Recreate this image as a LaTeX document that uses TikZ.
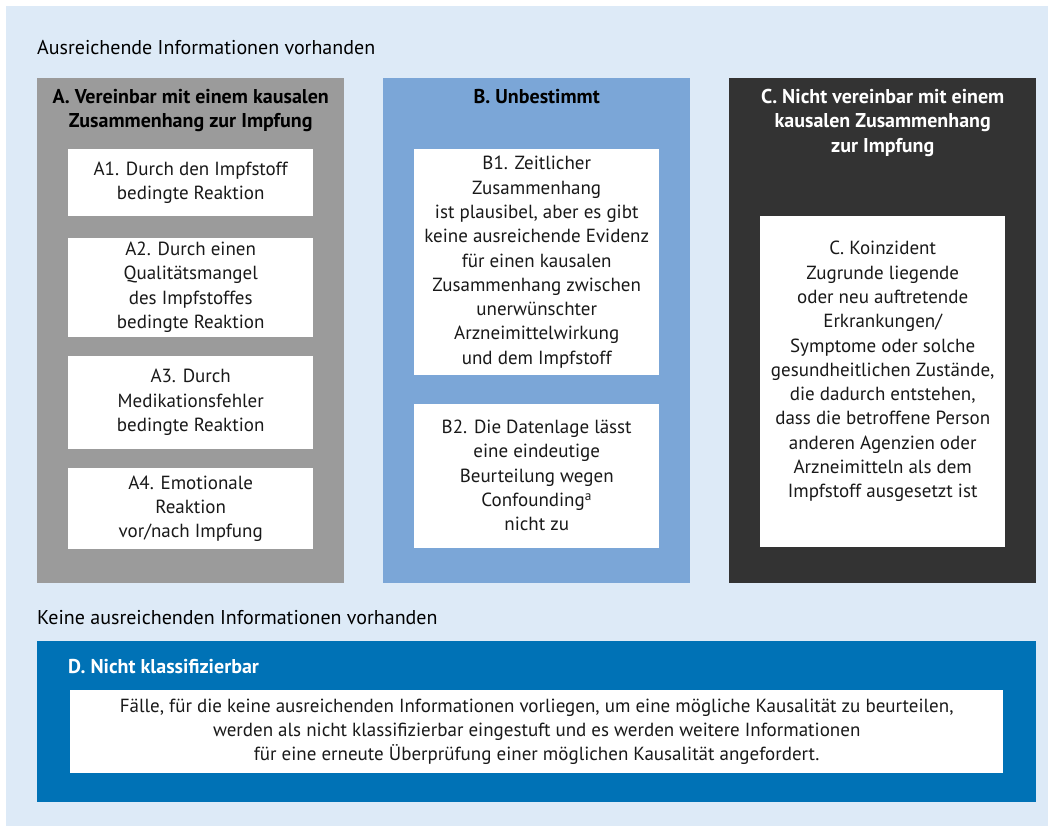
\documentclass[tikz,border=0pt]{standalone}
\usepackage{fontspec}
\setmainfont{PT Sans}
\usepackage{xcolor}
\definecolor{bg-blue}{HTML}{DDEAF7}
\definecolor{box-grey}{HTML}{9B9B9B}
\definecolor{box-blue}{HTML}{7BA6D7}
\definecolor{box-dark}{HTML}{333333}
\definecolor{box-navy}{HTML}{0072B6}
\usepackage{tikz}
\usetikzlibrary{positioning}
\tikzset{panel/.style = {anchor=north west, inner sep=0pt, minimum width=307pt, minimum height=505pt}}
\tikzset{card/.style = {fill=white, align=center, inner sep=0pt, minimum width=245pt, text=black!90, font=\fontsize{19}{24.3}\selectfont}}
\tikzset{head/.style = {align=center, inner sep=0pt, font=\bfseries\fontsize{20}{24.3}\selectfont}}
\tikzset{caption/.style = {anchor=west, inner sep=0pt, font=\fontsize{20}{23}\selectfont}}

\begin{document}
\begin{tikzpicture}[x=1pt, y=-1pt]

\fill[bg-blue] (6,6) rectangle (1048,826);
\useasboundingbox (0,0) rectangle (1052,828);

% upper part
\node[caption] (cap1) at (37,48) {Ausreichende Informationen vorhanden};
\node[panel, fill=box-grey] (pA) at (37,78) {};
\node[panel, fill=box-blue] (pB) at (383,78) {};
\node[panel, fill=box-dark] (pC) at (729,78) {};

\node[head, below=11pt of pA.north] (hA) {A. Vereinbar mit einem kausalen\\Zusammenhang zur Impfung};
\node[head, below=11pt of pB.north] (hB) {B. Unbestimmt};
\node[head, text=white, below=11pt of pC.north] (hC) {C. Nicht vereinbar mit einem\\kausalen Zusammenhang\\zur Impfung};

\node[card, minimum height=67pt, anchor=north west] (a1) at (68,149) {A1. Durch den Impfstoff\\bedingte Reaktion};
\node[card, minimum height=99pt, below=21pt of a1] (a2) {A2. Durch einen\\Qualitätsmangel\\des Impfstoffes\\bedingte Reaktion};
\node[card, minimum height=93pt, below=19pt of a2] (a3) {A3. Durch\\Medikationsfehler\\bedingte Reaktion};
\node[card, minimum height=81pt, below=19pt of a3] (a4) {A4. Emotionale\\Reaktion\\vor/nach Impfung};

\node[card, minimum height=226pt, anchor=north west] (b1) at (414,149) {B1. Zeitlicher\\Zusammenhang\\ist plausibel, aber es gibt\\keine ausreichende Evidenz\\für einen kausalen\\Zusammenhang zwischen\\unerwünschter\\Arzneimittelwirkung\\und dem Impfstoff};
\node[card, minimum height=144pt, below=28pt of b1] (b2) {B2. Die Datenlage lässt\\eine eindeutige\\Beurteilung wegen\\Confounding\textsuperscript{a}\\nicht zu};

\node[card, minimum height=331pt, anchor=north west] (c1) at (760,216) {C. Koinzident\\Zugrunde liegende\\oder neu auftretende\\Erkrankungen/\\Symptome oder solche\\gesundheitlichen Zustände,\\die dadurch entstehen,\\dass die betroffene Person\\anderen Agenzien oder\\Arzneimitteln als dem\\Impfstoff ausgesetzt ist\\~};

% lower part
\node[caption] (cap2) at (37,618) {Keine ausreichenden Informationen vorhanden};
\node[panel, fill=box-navy, minimum width=999pt, minimum height=161pt] (pD) at (37,641) {};
\node[head, text=white, anchor=west] (hD) at (68,667) {D. Nicht klassifizierbar};
\node[card, minimum width=933pt, minimum height=83pt, anchor=north west] (d1) at (70,690) {Fälle, für die keine ausreichenden Informationen vorliegen, um eine mögliche Kausalität zu beurteilen,\\werden als nicht klassifizierbar eingestuft und es werden weitere Informationen\\für eine erneute Überprüfung einer möglichen Kausalität angefordert.};

\end{tikzpicture}
\end{document}
